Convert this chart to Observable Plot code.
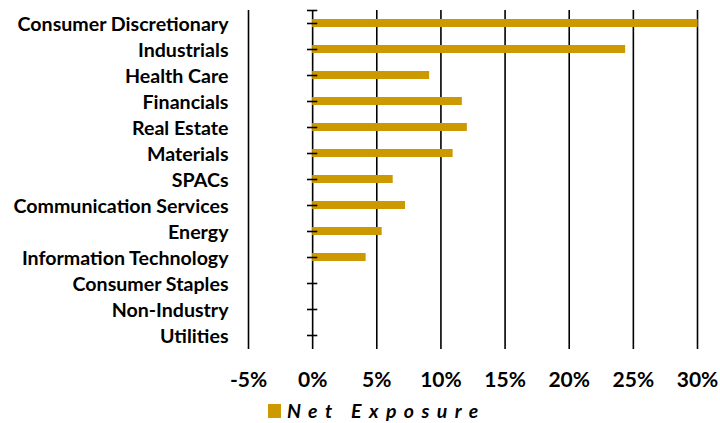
<!DOCTYPE html>
<html>
<head>
<meta charset="utf-8">
<script src="https://cdn.jsdelivr.net/npm/d3@7"></script>
<script src="https://cdn.jsdelivr.net/npm/@observablehq/plot@0.6"></script>
<style>
  html, body { margin: 0; padding: 0; background: #fff; }
  #chart { width: 720px; height: 423px; position: relative; overflow: hidden; }
  #legend { position: absolute; left: 268px; top: 400px; height: 22px; display: flex; align-items: center;
    font-family: Lato, "Open Sans", sans-serif; font-weight: bold; font-style: italic; font-size: 19.5px; line-height: 22px; letter-spacing: 7.4px; color: #000; }
  #legend .sw { width: 13px; height: 14px; background: #cc9900; margin-right: 6px; display: inline-block; }
</style>
</head>
<body>
<div id="chart"></div>
<script>
const categories = [
  "Consumer Discretionary", "Industrials", "Health Care", "Financials", "Real Estate",
  "Materials", "SPACs", "Communication Services", "Energy", "Information Technology",
  "Consumer Staples", "Non-Industry", "Utilities"
];
const netExposure = [30.05, 24.4, 9.12, 11.67, 12.06, 10.95, 6.28, 7.24, 5.42, 4.17, 0, 0, 0];
const xTicks = [-5, 0, 5, 10, 15, 20, 25, 30];
const seriesName = "Net Exposure";
const barColor = "#cc9900";

const data = categories.map((c, i) => ({category: c, value: netExposure[i]}));
const tickHalf = 0.4; // half-length of zero-axis tick marks, in % units

const plot = Plot.plot({
  width: 720,
  height: 398,
  marginTop: 10,
  marginBottom: 49,
  marginLeft: 248,
  marginRight: 23,
  style: {fontFamily: "Lato, 'Open Sans', sans-serif", background: "#fff", color: "#000"},
  x: {domain: [-5, 30], axis: null},
  y: {domain: categories, paddingInner: 0.69, paddingOuter: 0.345, axis: null},
  marks: [
    Plot.ruleX(xTicks, {stroke: "#000", strokeWidth: 1.6}),
    Plot.barX(data, {x: "value", y: "category", fill: barColor}),
    Plot.ruleY(categories, {y: d => d, x1: -tickHalf, x2: tickHalf, stroke: "#000", strokeWidth: 1.6}),
    Plot.ruleY([categories[0]], {y: d => d, x1: -tickHalf, x2: tickHalf, dy: -13, stroke: "#000", strokeWidth: 1.6}),
    Plot.axisX({ticks: xTicks, tickFormat: d => d + "%", tickSize: 0, tickPadding: 23, fontSize: 21, fontWeight: "bold", label: null, fill: "#000"}),
    Plot.axisY({tickSize: 0, tickPadding: 20, fontSize: 19.6, fontWeight: "bold", label: null, fill: "#000", dy: 1.5})
  ]
});
const chart = document.getElementById("chart");
chart.appendChild(plot);
const legend = document.createElement("div");
legend.id = "legend";
legend.innerHTML = `<span class="sw"></span><span>${seriesName}</span>`;
chart.appendChild(legend);
</script>
</body>
</html>
